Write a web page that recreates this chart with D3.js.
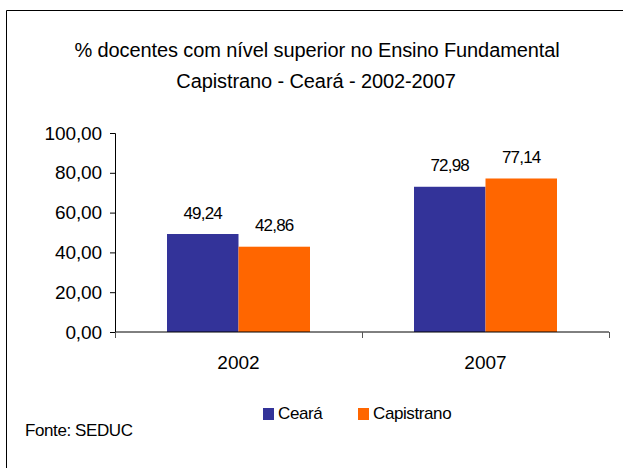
<!DOCTYPE html>
<html>
<head>
<meta charset="utf-8">
<script src="https://cdn.jsdelivr.net/npm/d3@7"></script>
<style>
  body { margin: 0; background: #fff; }
  text { font-family: "Liberation Sans", Arial, sans-serif; fill: #000; }
</style>
</head>
<body>
<div id="chart-area"></div>
<script>
// data
const years = ["2002", "2007"]
const series = ["Ceará", "Capistrano"]
const ceara = [49.24, 72.98]
const capistrano = [42.86, 77.14]
const yTicks = [0, 20, 40, 60, 80, 100]
const colors = ["#333399", "#FF6600"]

const W = 632, H = 468
const MARGIN = { LEFT: 115, TOP: 133 }
const innerW = 494
const innerH = 199

const svg = d3.select("#chart-area").append("svg")
  .attr("width", W)
  .attr("height", H)

// frame (only top and left edges are visible in the crop)
svg.append("path")
  .attr("d", "M6.5,468V10.5H623")
  .attr("fill", "none").attr("stroke", "#000").attr("stroke-width", 1)

// title
svg.append("text").attr("x", 317).attr("y", 57)
  .attr("text-anchor", "middle").attr("font-size", "20px")
  .attr("letter-spacing", "-0.1px")
  .text("% docentes com nível superior no Ensino Fundamental")
svg.append("text").attr("x", 316).attr("y", 88)
  .attr("text-anchor", "middle").attr("font-size", "20px")
  .attr("letter-spacing", "-0.1px")
  .text("Capistrano - Ceará - 2002-2007")

const g = svg.append("g")
  .attr("transform", `translate(${MARGIN.LEFT}, ${MARGIN.TOP})`)

// scales
const x0 = d3.scaleBand().domain(years).range([0, innerW])
const x1 = d3.scaleBand().domain(series).range([52, x0.bandwidth() - 52])
const y = d3.scaleLinear().domain([0, 100]).range([innerH, 0])

// y axis
const yAxis = g.append("g")
  .call(d3.axisLeft(y).tickValues(yTicks).tickSize(5).tickFormat(d => d3.format(".2f")(d).replace(".", ",")))
yAxis.select(".domain").attr("stroke", "#000").attr("d", `M-5,0.5H0.5V${innerH}`)
yAxis.selectAll(".tick line").attr("stroke", "#000")
yAxis.selectAll(".tick text").attr("font-size", "19px").attr("x", -13)
  .attr("letter-spacing", "-0.1px")
  .style("font-family", "Liberation Sans, Arial, sans-serif").attr("fill", "#000")

// bars
const rows = years.map((yr, i) => ({ year: yr, values: [ceara[i], capistrano[i]] }))
const grp = g.selectAll(".grp").data(rows).enter().append("g")
  .attr("transform", d => `translate(${x0(d.year)},0)`)
grp.selectAll("rect").data(d => d.values.map((v, j) => ({ s: series[j], v, j })))
  .enter().append("rect")
  .attr("x", d => x1(d.s))
  .attr("y", d => y(d.v))
  .attr("width", x1.bandwidth())
  .attr("height", d => innerH - y(d.v))
  .attr("fill", d => colors[d.j])
grp.selectAll(".lbl").data(d => d.values.map((v, j) => ({ s: series[j], v, j })))
  .enter().append("text")
  .attr("x", d => x1(d.s) + x1.bandwidth() / 2)
  .attr("y", d => y(d.v) - 15.5)
  .attr("text-anchor", "middle").attr("font-size", "17px")
  .attr("letter-spacing", "-0.8px")
  .text(d => d3.format(".2f")(d.v).replace(".", ","))

// x axis
const xAxis = g.append("g").attr("transform", `translate(0,${innerH})`)
  .call(d3.axisBottom(x0).tickSize(0).tickPadding(24))
xAxis.select(".domain").attr("stroke", "#000")
  .attr("d", `M0.5,0H${innerW}`)
xAxis.selectAll(".tick text").attr("font-size", "19px")
  .style("font-family", "Liberation Sans, Arial, sans-serif").attr("fill", "#000")
// category separator ticks
const seps = [0, x0("2007"), innerW]
xAxis.selectAll(".sep").data(seps).enter().append("line")
  .attr("x1", d => d + 0.5).attr("x2", d => d + 0.5)
  .attr("y1", 0).attr("y2", 6).attr("stroke", "#555")

// legend
const legend = svg.append("g").attr("transform", "translate(263, 408)")
const legX = [0, 95]
series.forEach((s, i) => {
  const row = legend.append("g").attr("transform", `translate(${legX[i]},0)`)
  row.append("rect").attr("width", 11).attr("height", 12).attr("fill", colors[i])
  row.append("text").attr("x", 15).attr("y", 10.5).attr("font-size", "17px")
    .attr("letter-spacing", "-0.4px").text(s)
})

svg.append("text").attr("x", 25).attr("y", 436).attr("font-size", "17px")
  .attr("letter-spacing", "-0.4px").text("Fonte: SEDUC")
</script>
</body>
</html>
